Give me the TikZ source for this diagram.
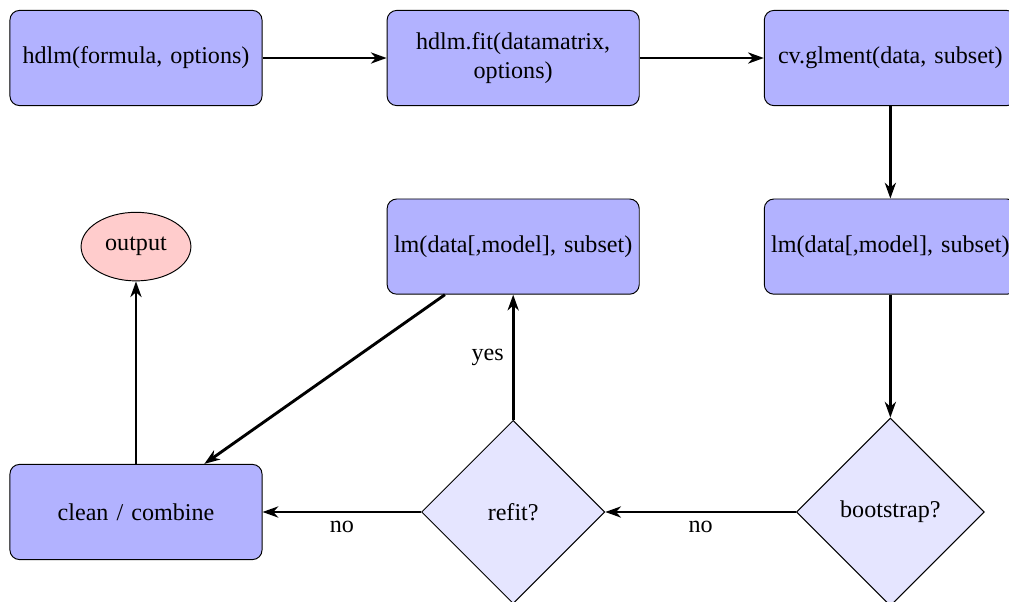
\documentclass[tikz,border=0pt]{standalone}
\usepackage{fontspec}
\setmainfont{Liberation Serif}
\usetikzlibrary{shapes.geometric,arrows.meta}
\tikzset{
    block/.style={rectangle, draw, fill=blue!30, rounded corners, text width=102pt,
        inner sep=1.3pt, align=center, minimum height=39.5pt},
    decision/.style={diamond, draw, fill=blue!10, inner sep=6.8pt, minimum size=76pt, align=center},
    outnode/.style={ellipse, draw, fill=red!20, minimum height=1cm},
    line/.style={draw, very thick, -{Stealth[length=6.5pt,width=4.6pt,inset=2pt]}}
}
\begin{document}
\begin{tikzpicture}
    \useasboundingbox (-1.983,0.846) rectangle (12.73,-7.92);
    % top row
    \node[block] (hdlm) at (0,0) {hdlm(formula, options)};
    \node[block] (fit) at (5.5,0) {hdlm.fit(datamatrix, options)};
    \node[block] (cv) at (11,0) {cv.glment(data, subset)};
    % middle row
    \node[outnode] (output) at (0,-2.75) {output};
    \node[block] (lmrefit) at (5.5,-2.75) {lm(data[,model], subset)};
    \node[block] (lmcv) at (11,-2.75) {lm(data[,model], subset)};
    % bottom row
    \node[block] (clean) at (0,-6.62) {clean / combine};
    \node[decision] (refit) at (5.5,-6.62) {refit?};
    \node[decision] (boot) at (11,-6.62) {bootstrap?};
    \draw[line] (hdlm) -- (fit);
    \draw[line] (fit) -- (cv);
    \draw[line] (cv) -- (lmcv);
    \draw[line] (lmcv) -- (boot);
    \draw[line] (boot) -- node[below] {no} (refit);
    \draw[line] (refit) -- node[below] {no} (clean);
    \draw[line] (refit) -- node[left] {yes} (lmrefit);
    \draw[line] (lmrefit) -- (clean);
    \draw[line] (clean) -- (output);
\end{tikzpicture}
\end{document}
